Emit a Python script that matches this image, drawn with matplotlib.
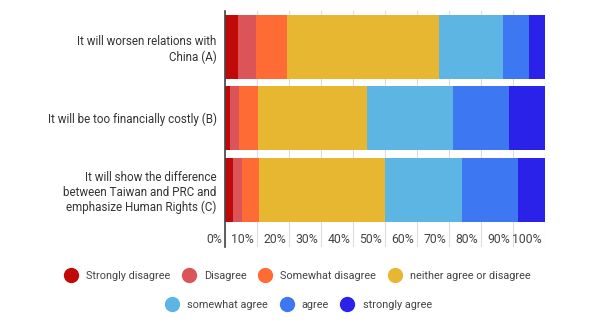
import matplotlib.pyplot as plt
from matplotlib.lines import Line2D

plt.rcParams['font.family'] = ['Roboto', 'DejaVu Sans']

# Daten
questions = ["It will worsen relations with\nChina (A)",
             "It will be too financially costly (B)",
             "It will show the difference\nbetween Taiwan and PRC and\nemphasize Human Rights (C)"]
answers = ["Strongly disagree", "Disagree", "Somewhat disagree",
           "neither agree or disagree", "somewhat agree", "agree", "strongly agree"]
strongly_disagree = [4.2, 1.7, 2.6]
disagree = [5.5, 2.8, 2.8]
somewhat_disagree = [9.6, 5.9, 5.3]
neither = [47.7, 34.0, 39.2]
somewhat_agree = [19.8, 26.7, 24.2]
agree = [8.1, 17.8, 17.5]
strongly_agree = [5.1, 11.1, 8.4]
series = [strongly_disagree, disagree, somewhat_disagree, neither,
          somewhat_agree, agree, strongly_agree]
tick_values = [0, 10, 20, 30, 40, 50, 60, 70, 80, 90, 100]
tick_labels = ["0%", "10%", "20%", "30%", "40%", "50%", "60%", "70%", "80%", "90%", "100%"]

colors = ["#c00a0a", "#da5458", "#ff6b35", "#e8b731",
          "#5db5e4", "#3d78f2", "#2b22e9"]

fig = plt.figure(figsize=(6, 3.31), dpi=100)
ax = fig.add_axes([225/600, 1 - 247/331, 320/600, 236/331])

y = list(range(len(questions)))
left = [0] * len(questions)
for vals, c, name in zip(series, colors, answers):
    ax.barh(y, vals, left=left, height=0.9, color=c, label=name, zorder=2)
    left = [l + v for l, v in zip(left, vals)]

ax.set_xlim(0, 100)
ax.set_ylim(2.8, -0.5)
ax.set_yticks(y)
ax.set_yticklabels(questions, fontsize=8.4, color="#333333", linespacing=1.2)
ax.tick_params(axis='y', length=0, pad=6)
ax.set_xticks(tick_values)
ax.set_xticklabels([])
ax.tick_params(axis='x', length=0)
ax.grid(axis='x', color="#dddddd", linewidth=0.8, zorder=0)
for s in ['top', 'right', 'bottom']:
    ax.spines[s].set_visible(False)
ax.spines['left'].set_color("#444444")
ax.spines['left'].set_linewidth(1.2)
ax.spines['left'].set_zorder(3)

# Achsenbeschriftung links vom Gitter
for v, lab in zip(tick_values, tick_labels):
    ax.text(v - 0.9, 2.7, lab, ha='right', va='center', fontsize=8.8, color="#444444")

handles = [Line2D([], [], marker='o', linestyle='', markersize=10,
                  markerfacecolor=c, markeredgecolor=c) for c in colors]
leg_kw = dict(loc='center', frameon=False, fontsize=7.8, handlelength=1.4,
              handletextpad=0.7, columnspacing=1.0)
leg1 = fig.legend(handles[:4], answers[:4], ncol=4,
                  bbox_to_anchor=(0.495, 1 - 276/331), **leg_kw)
leg2 = fig.legend(handles[4:], answers[4:], ncol=3,
                  bbox_to_anchor=(0.497, 1 - 305/331), **leg_kw)
for leg in (leg1, leg2):
    for t in leg.get_texts():
        t.set_color("#444444")

fig.savefig("out.png", dpi=100)
